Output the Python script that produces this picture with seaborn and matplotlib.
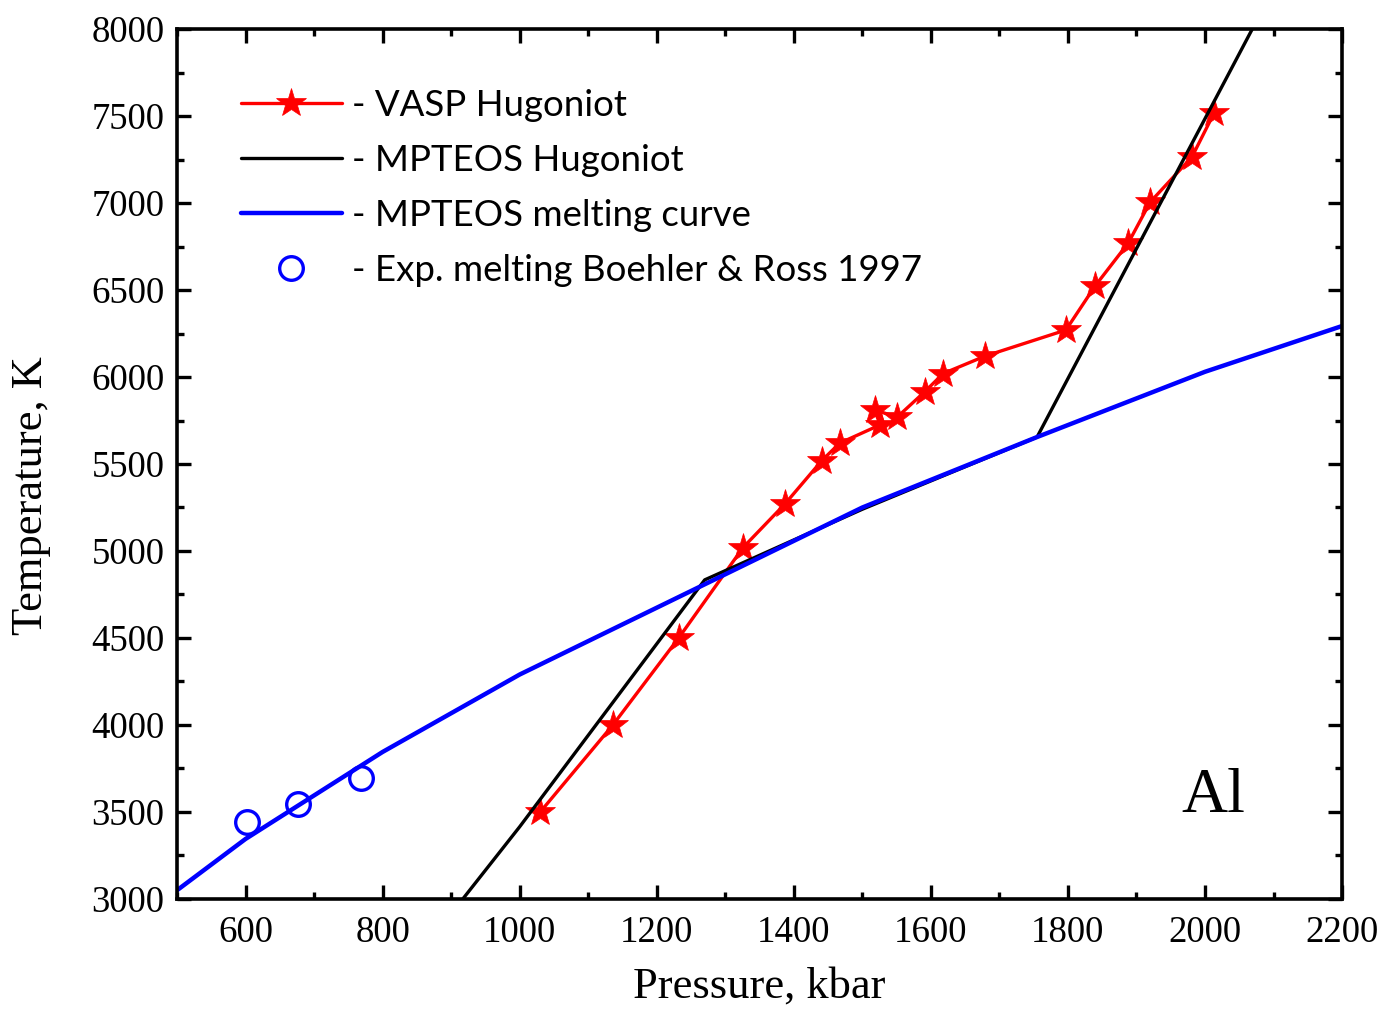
import numpy as np
import pandas as pd
import matplotlib
matplotlib.use('Agg')
import matplotlib.pyplot as plt
from matplotlib.ticker import MultipleLocator
import seaborn as sns

# VASP Hugoniot (pressure kbar, temperature K)
vasp_p = [1030, 1136, 1232, 1326, 1387, 1441, 1467, 1526, 1518, 1551, 1591, 1618,
          1679, 1797, 1840, 1888, 1920, 1981, 2013]
vasp_t = [3500, 4000, 4500, 5020, 5270, 5520, 5620, 5725, 5810, 5770, 5915, 6020,
          6120, 6270, 6525, 6770, 7005, 7265, 7515]

# MPTEOS Hugoniot
mpt_p = [917, 1000, 1270, 1500, 1755, 2069]
mpt_t = [3000, 3415, 4834, 5240, 5655, 8000]

# MPTEOS melting curve
melt_p = [500, 600, 800, 1000, 1500, 1755, 2000, 2200]
melt_t = [3050, 3345, 3845, 4290, 5250, 5655, 6030, 6293]

# Experimental melting, Boehler & Ross 1997
exp_p = [602, 677, 768]
exp_t = [3445, 3546, 3696]

labels = ['- VASP Hugoniot', '- MPTEOS Hugoniot', '- MPTEOS melting curve',
          '- Exp. melting Boehler & Ross 1997']

sns.set_style('ticks', {'axes.edgecolor': 'black', 'text.color': 'black',
                        'axes.labelcolor': 'black', 'xtick.color': 'black',
                        'ytick.color': 'black'})
plt.rcParams['font.family'] = ['Liberation Serif', 'DejaVu Serif']

fig = plt.figure(figsize=(13.85, 10.11), dpi=100)
ax = fig.add_axes([0.1278, 0.1108, 0.8412, 0.8605])

sns.lineplot(x=vasp_p, y=vasp_t, ax=ax, sort=False, color='#ff0000', lw=2.4,
             marker='*', markersize=22, markeredgecolor='#ff0000',
             markeredgewidth=0.5, label=labels[0])
sns.lineplot(x=mpt_p, y=mpt_t, ax=ax, sort=False, color='black', lw=2.4,
             label=labels[1])
sns.lineplot(x=melt_p, y=melt_t, ax=ax, sort=False, color='#0000ff', lw=3.2,
             label=labels[2])
sns.lineplot(x=exp_p, y=exp_t, ax=ax, sort=False, color='#0000ff', ls='none',
             marker='o', markersize=17, markerfacecolor='none',
             markeredgecolor='#0000ff', markeredgewidth=2.4, label=labels[3])

ax.set_xlim(500, 2200)
ax.set_ylim(3000, 8000)
ax.xaxis.set_major_locator(MultipleLocator(200))
ax.xaxis.set_minor_locator(MultipleLocator(100))
ax.yaxis.set_major_locator(MultipleLocator(500))
ax.yaxis.set_minor_locator(MultipleLocator(250))

ax.tick_params(which='both', direction='in', top=True, right=True, width=2.4,
               labelsize=26.5, color='black', labelcolor='black')
ax.tick_params(which='major', length=10)
ax.tick_params(which='minor', length=5)
ax.tick_params(axis='x', pad=12)
ax.tick_params(axis='y', pad=9)
for s in ax.spines.values():
    s.set_linewidth(2.6)
    s.set_color('black')

ax.set_xlabel('Pressure, kbar', fontsize=32, color='black')
ax.set_ylabel('Temperature, K', fontsize=32, color='black')
ax.xaxis.set_label_coords(0.5, -0.078)
ax.yaxis.set_label_coords(-0.108, 0.464)

ax.text(1965, 3500, 'Al', fontsize=46, va='baseline', ha='left', color='black')

leg = ax.legend(loc='upper left', bbox_to_anchor=(0.055, 0.931), frameon=False,
                borderpad=0, borderaxespad=0, handlelength=2.75, handletextpad=0.27,
                labelspacing=0.6, numpoints=1,
                prop={'family': 'Lato', 'size': 26.4})
for t in leg.get_texts():
    t.set_color('black')

fig.savefig('out.png', dpi=100)
